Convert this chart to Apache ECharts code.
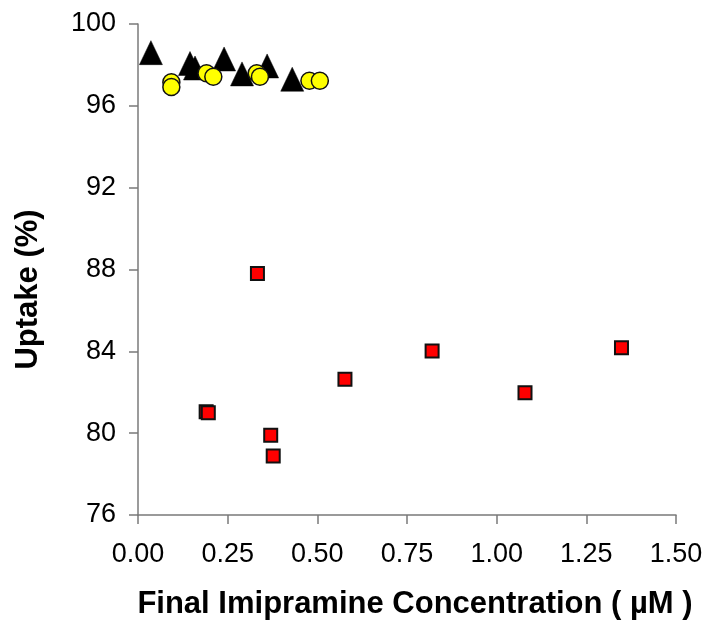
<!DOCTYPE html>
<html>
<head>
<meta charset="utf-8">
<script src="https://cdn.jsdelivr.net/npm/echarts@6/dist/echarts.min.js"></script>
<style>
  html, body { margin: 0; padding: 0; background: #fff; }
  #display { width: 706px; height: 634px; }
</style>
</head>
<body>
<div id="display"></div>
<script>
// 三组数据：三角形、黄色圆点、红色方块
var triangleX = [0.036, 0.145, 0.159, 0.240, 0.290, 0.360, 0.430];
var triangleY = [98.60, 98.07, 97.85, 98.29, 97.56, 97.95, 97.30];

var circleX = [0.093, 0.093, 0.191, 0.210, 0.331, 0.340, 0.478, 0.507];
var circleY = [97.15, 96.92, 97.59, 97.42, 97.59, 97.42, 97.23, 97.23];

var squareX = [0.190, 0.196, 0.333, 0.370, 0.377, 0.577, 0.820, 1.079, 1.348];
var squareY = [81.05, 81.00, 87.81, 79.90, 78.88, 82.63, 84.02, 81.98, 84.18];

var xTicks = ['0.00', '0.25', '0.50', '0.75', '1.00', '1.25', '1.50'];

function pairs(xs, ys) {
    return xs.map(function (x, i) { return [x, ys[i]]; });
}

var myDisplay = echarts.init(document.getElementById('display'));
var font = 'Liberation Sans, Arial, sans-serif';
var axisGray = '#7a7a7a';

myDisplay.setOption({
    animation: false,
    // 固定绘图区位置，不让标签挤压
    grid: { left: 138, right: 30, top: 24, bottom: 119, outerBoundsMode: 'none', containLabel: false },
    xAxis: {
        type: 'value',
        min: 0,
        max: 1.5,
        interval: 0.25,
        name: 'Final Imipramine Concentration ( µM )',
        nameLocation: 'middle',
        nameGap: 74,
        nameTextStyle: { fontFamily: font, fontSize: 31, fontWeight: 'bold', color: '#000', padding: [0, 0, 0, 16] },
        axisLine: { lineStyle: { color: axisGray, width: 1.5 } },
        axisTick: { length: 9, lineStyle: { color: axisGray, width: 1.5 } },
        axisLabel: {
            margin: 26,
            fontFamily: font,
            fontSize: 27,
            color: '#000',
            formatter: function (v) { return xTicks[Math.round(v / 0.25)]; }
        },
        splitLine: { show: false }
    },
    yAxis: {
        type: 'value',
        min: 76,
        max: 100,
        interval: 4,
        name: 'Uptake (%)',
        nameLocation: 'middle',
        nameGap: 94,
        nameTextStyle: { fontFamily: font, fontSize: 31, fontWeight: 'bold', color: '#000', padding: [0, 40, 0, 0] },
        axisLine: { show: true, lineStyle: { color: axisGray, width: 1.5 } },
        axisTick: { show: true, length: 9, lineStyle: { color: axisGray, width: 1.5 } },
        axisLabel: { margin: 22, fontFamily: font, fontSize: 27, color: '#000' },
        splitLine: { show: false }
    },
    series: [
        {
            type: 'scatter',
            symbol: 'triangle',
            symbolSize: [23, 24],
            data: pairs(triangleX, triangleY),
            itemStyle: { color: '#000', borderColor: '#000', borderWidth: 0.5, opacity: 1 }
        },
        {
            type: 'scatter',
            symbol: 'circle',
            symbolSize: 17,
            data: pairs(circleX, circleY),
            itemStyle: { color: '#ffff00', borderColor: '#111', borderWidth: 1.5, opacity: 1 }
        },
        {
            type: 'scatter',
            symbol: 'rect',
            symbolSize: 13,
            data: pairs(squareX, squareY),
            itemStyle: { color: '#ff0000', borderColor: '#111', borderWidth: 2, opacity: 1 }
        }
    ]
});

window.onresize = function () {
    myDisplay.resize();
};
</script>
</body>
</html>
